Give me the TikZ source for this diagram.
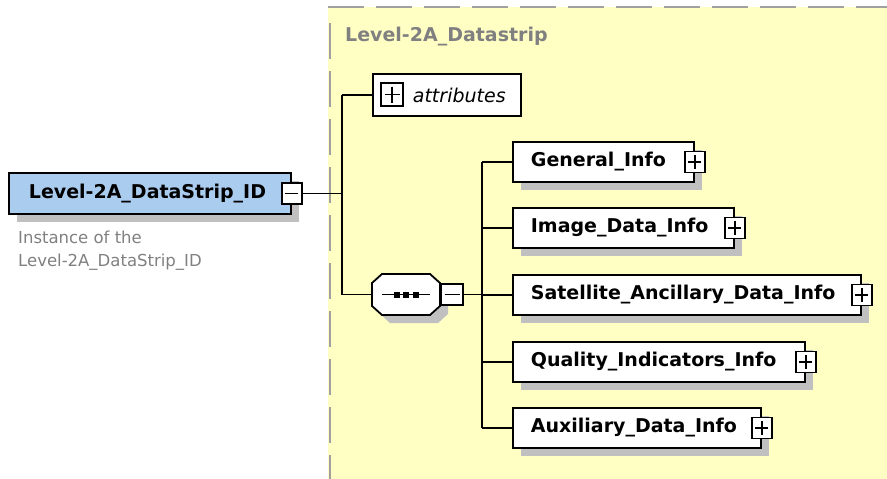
\documentclass[tikz,border=0pt]{standalone}
\usepackage{fontspec}
\setmainfont{DejaVu Sans}
\usetikzlibrary{shadows}
\definecolor{bgyellow}{RGB}{255,255,196}
\definecolor{rootblue}{RGB}{170,204,238}
\definecolor{shadowgray}{RGB}{192,192,192}
\definecolor{dashgray}{RGB}{160,160,160}
\definecolor{titlegray}{RGB}{128,128,128}
\tikzset{
 conn/.style={line width=1.8pt},
 shad/.style={drop shadow={shadow xshift=8pt,shadow yshift=-8pt,fill=shadowgray,opacity=1}},
 elem/.style={draw, line width=1.8pt, fill=white, shad, minimum height=40pt, inner xsep=18pt, inner ysep=0pt, anchor=west, align=left, font=\fontsize{19}{23}\selectfont\bfseries},
 minusbox/.style={draw, line width=1.6pt, fill=white, minimum width=20pt, minimum height=21pt, inner sep=0pt,
   path picture={\draw[line width=1.8pt] ([xshift=3.5pt]path picture bounding box.west) -- ([xshift=-3.5pt]path picture bounding box.east);}},
 plusbox/.style={draw, line width=1.6pt, fill=white, minimum width=20pt, minimum height=21pt, inner sep=0pt,
   path picture={\draw[line width=1.8pt] ([xshift=3.5pt]path picture bounding box.west) -- ([xshift=-3.5pt]path picture bounding box.east)
     ([yshift=-3.5pt]path picture bounding box.north) -- ([yshift=3.5pt]path picture bounding box.south);}},
 border/.style={dashgray, line width=2pt, dash pattern=on 36pt off 12pt}
}
\begin{document}
\begin{tikzpicture}[x=1pt,y=-1pt]
\useasboundingbox (0,0) rectangle (887,479);
% container
\fill[bgyellow] (328,7) rectangle (887,479);
\draw[border] (328,7) -- (887,7);
\draw[border, dash phase=36pt] (330,11) -- (330,479);
\node[anchor=west, inner sep=0pt, text=titlegray, font=\fontsize{19}{23}\selectfont\bfseries] (title) at (345,36.5) {Level-2A\_Datastrip};

% root element
\node[elem, fill=rootblue, minimum height=41pt, inner xsep=20pt, text width=242pt] (root) at (8,193.5) {\mbox{Level-2A\_DataStrip\_ID}};
\node[minusbox] (rootm) at (root.east) {};
\node[anchor=north west, inner sep=0pt, align=left, text=titlegray, font=\fontsize{16.5}{23}\selectfont] (desc) at (18,231) {Instance of the\\Level-2A\_DataStrip\_ID};

% attributes
\node[draw, line width=1.8pt, fill=white, anchor=west, minimum height=42pt, inner xsep=18pt, inner ysep=0pt, text width=112pt, align=left, font=\fontsize{19}{23}\selectfont\itshape] (attr) at (372,95) {\mbox{\hspace*{22pt}attributes}};
\node[plusbox, minimum width=22pt, minimum height=23pt] (attrp) at (392,94.5) {};

% sequence compositor (octagon drawn on the node's frame)
\node[minimum width=68pt, minimum height=41pt, inner sep=0pt] (seq) at (406,294.5) {};
\begin{scope}[shift={(seq.center)}]
\fill[shadowgray, shift={(8,8)}] (-24,-20.5) -- (24,-20.5) -- (34,-11.5) -- (34,11.5) -- (24,20.5) -- (-24,20.5) -- (-34,11.5) -- (-34,-11.5) -- cycle;
\filldraw[fill=white, draw=black, line width=1.8pt] (-24,-20.5) -- (24,-20.5) -- (34,-11.5) -- (34,11.5) -- (24,20.5) -- (-24,20.5) -- (-34,11.5) -- (-34,-11.5) -- cycle;
\draw[line width=1.6pt] (-24,0) -- (24,0);
\fill (-12.5,-3) rectangle (-6.5,3);
\fill (-3,-3) rectangle (3,3);
\fill (6.5,-3) rectangle (12.5,3);
\end{scope}
\node[minusbox, minimum width=22pt, anchor=west] (seqm) at (seq.east) {};

% children
\node[elem, text width=145pt] (gen) at (512,162) {\mbox{General\_Info}};
\node[elem, text width=185pt] (img) at (512,228) {\mbox{Image\_Data\_Info}};
\node[elem, text width=312pt] (sat) at (512,295) {\mbox{Satellite\_Ancillary\_Data\_Info}};
\node[elem, text width=256pt] (qual) at (512,362) {\mbox{Quality\_Indicators\_Info}};
\node[elem, text width=212pt] (aux) at (512,428) {\mbox{Auxiliary\_Data\_Info}};
\node[plusbox] (genp) at (gen.east) {};
\node[plusbox] (imgp) at (img.east) {};
\node[plusbox] (satp) at (sat.east) {};
\node[plusbox] (qualp) at (qual.east) {};
\node[plusbox] (auxp) at (aux.east) {};

% connectors
\coordinate (rbus) at (342,0);
\coordinate (cbus) at (482,0);
\draw[conn] (rootm.east) -- (rootm.east -| rbus);
\draw[conn] (attr.west -| rbus) -- (seq.west -| rbus);
\draw[conn] (attr.west) -- (attr.west -| rbus);
\draw[conn] (seq.west) -- (seq.west -| rbus);
\draw[conn] (seqm.east) -- (seqm.east -| cbus);
\draw[conn] (gen.west -| cbus) -- (aux.west -| cbus);
\draw[conn] (gen.west) -- (gen.west -| cbus);
\draw[conn] (img.west) -- (img.west -| cbus);
\draw[conn] (sat.west) -- (sat.west -| cbus);
\draw[conn] (qual.west) -- (qual.west -| cbus);
\draw[conn] (aux.west) -- (aux.west -| cbus);
\end{tikzpicture}
\end{document}
